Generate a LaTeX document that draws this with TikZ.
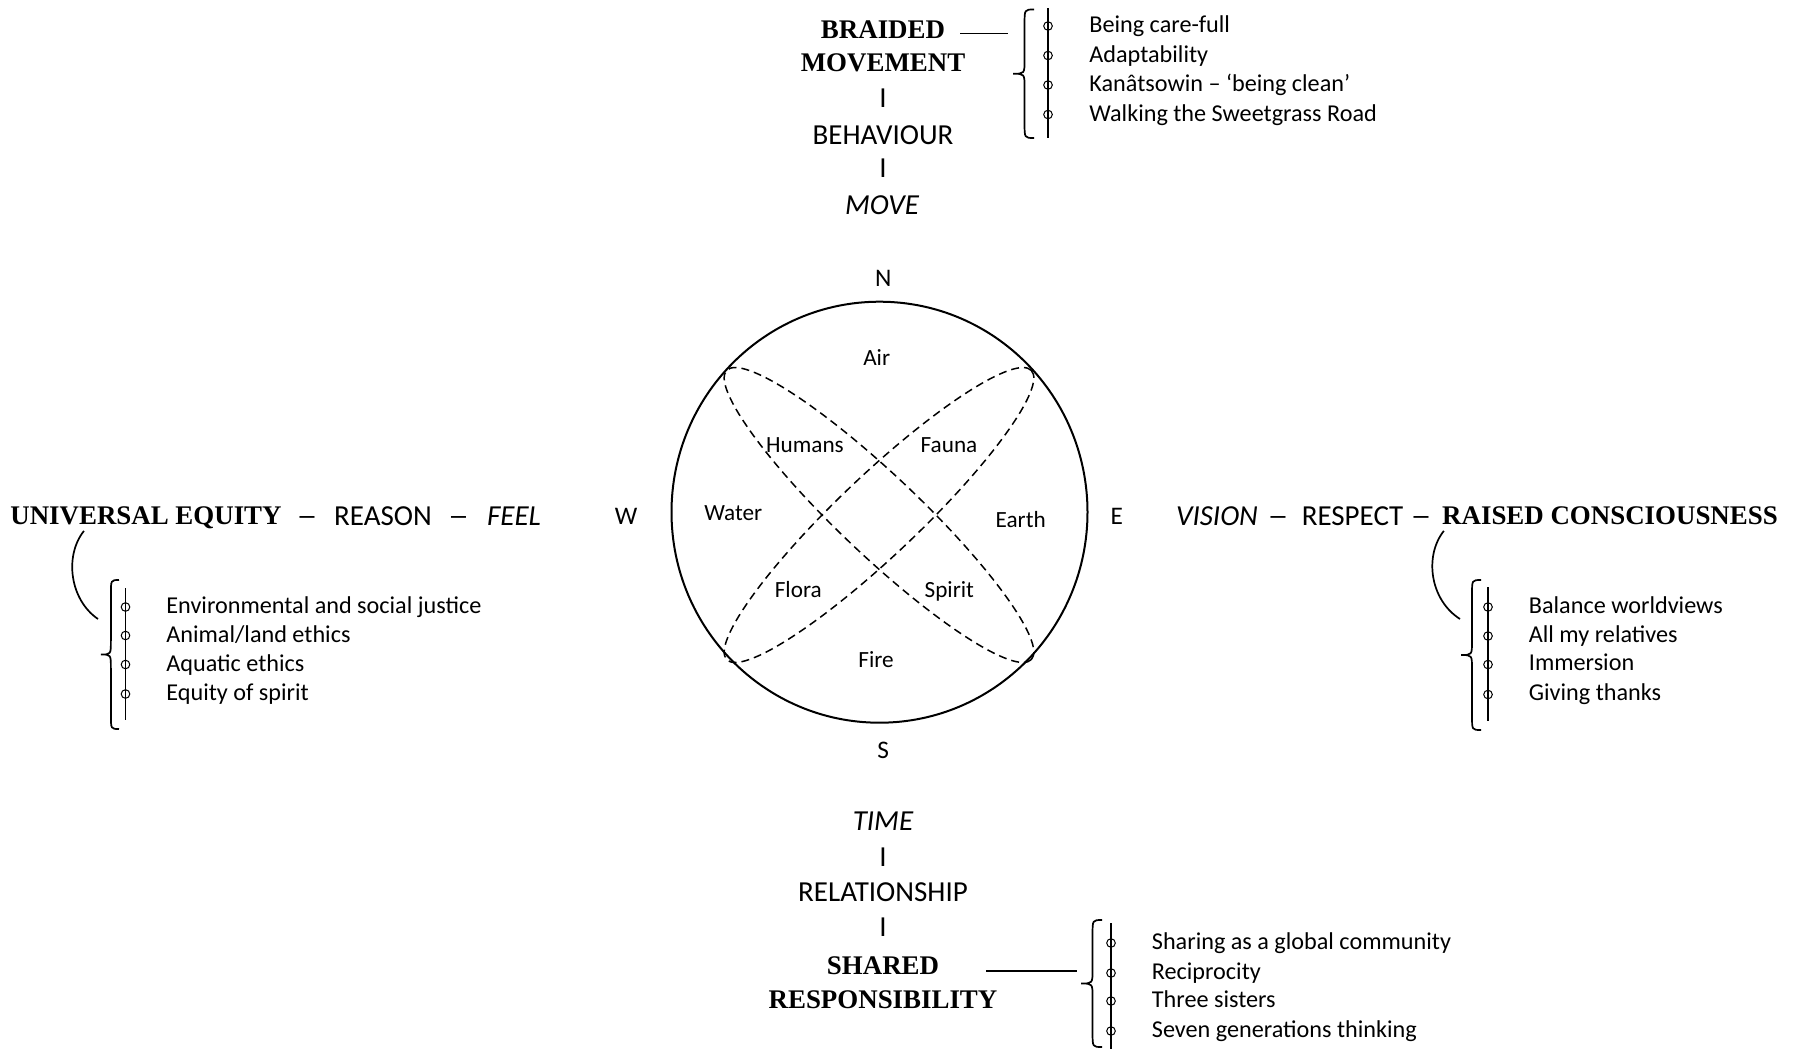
\documentclass[tikz,border=0pt]{standalone}
\usepackage{fontspec}
\setmainfont{Carlito}
\newfontfamily\headfont{Liberation Serif}

% curly brace opening to the right: tip x, end x, top y, bottom y
\newcommand\curlybrace[4]{%
  \pgfmathsetmacro\cbmid{(#3+#4)/2}%
  \pgfmathsetmacro\cbbar{#1+0.55*(#2-#1)}%
  \draw[bracebar] (#2,#3) .. controls (\cbbar,#3) .. (\cbbar,#3+14)
     -- (\cbbar,\cbmid-14) .. controls (\cbbar,\cbmid) .. (#1,\cbmid)
     .. controls (\cbbar,\cbmid) .. (\cbbar,\cbmid+14)
     -- (\cbbar,#4-14) .. controls (\cbbar,#4) .. (#2,#4);
}
% a slightly longer dash between the row labels
\newcommand\rowdash{\scalebox{1.45}[1]{–}}

\begin{document}
\begin{tikzpicture}[x=0.5pt,y=-0.5pt,
  lab/.style={font=\fontsize{14.5}{17}\selectfont, anchor=base, yshift=-4.6pt, inner sep=0pt},
  ital/.style={font=\fontsize{14.5}{17}\selectfont\itshape, anchor=base, yshift=-4.6pt, inner sep=0pt},
  head/.style={font=\fontsize{13.45}{16}\headfont\bfseries, anchor=base, yshift=-4.45pt, inner sep=0pt},
  item/.style={font=\fontsize{12.1}{14}\selectfont, anchor=base west, yshift=-3.8pt, inner sep=0pt},
  elem/.style={font=\fontsize{11.6}{14}\selectfont, anchor=base, yshift=-3.65pt, inner sep=0pt},
  compass/.style={font=\fontsize{12.65}{15}\selectfont, anchor=base, yshift=-4pt, inner sep=0pt},
  stroke/.style={line width=0.85pt},
  bracebar/.style={line width=0.85pt},
  bead/.style={line width=0.5pt},
  ring/.style={line width=1pt},
  sector/.style={line width=0.75pt, dash pattern=on 4pt off 2.5pt},
]
\fill[white] (0,0) rectangle (1798,1049);
\useasboundingbox (0,0) rectangle (1798,1049);

% ---- medicine wheel ----
\coordinate (hub) at (879.5,512.2);
\coordinate (cross) at (879,515);
\draw[ring] (hub) ellipse [x radius=208, y radius=210.5];
\draw[sector, rotate around={-43.5:(cross)}] (cross) ellipse [x radius=210, y radius=40];
\draw[sector, rotate around={43.5:(cross)}] (cross) ellipse [x radius=210, y radius=40];

\node[elem] (air)    at (876.7,358.3) {Air};
\node[elem] (humans) at (805,445)     {Humans};
\node[elem] (fauna)  at (949,445)     {Fauna};
\node[elem] (water)  at (733.3,513.3) {Water};
\node[elem] (earth)  at (1020.7,520)  {Earth};
\node[elem] (flora)  at (798.3,590)   {Flora};
\node[elem] (spirit) at (949.3,590)   {Spirit};
\node[elem] (fire)   at (876,660)     {Fire};

\node[compass] (n) at (883.3,278.3) {N};
\node[compass] (e) at (1116.7,516.7) {E};
\node[compass] (s) at (883.3,750)   {S};
\node[compass] (w) at (626,516)     {W};

% ---- north ----
\node[head] (braided)   at (883,29.5) {BRAIDED};
\node[head] (movement)  at (883,63)   {MOVEMENT};
\node[lab]  (sepA)      at (883,98)   {I};
\node[lab]  (behaviour) at (883,135.4) {BEHAVIOUR};
\node[lab]  (sepB)      at (883,168.5) {I};
\node[ital] (move)      at (882,205)  {MOVE};

\draw[stroke] ([shift={(15,-5)}]braided.base east) -- +(48,0);
\curlybrace{1013}{1034}{9.5}{138}
\draw[bracebar] (1048,8.3) -- (1048,138.3);
\foreach \y in {26,55.5,85,114.5} \draw[bead] (1048,\y) circle [radius=4.3];
\node[item] (n1) at (1089,25)    {Being care-full};
\node[item] (n2) at (1089,54.5)  {Adaptability};
\node[item] (n3) at (1089,84)    {Kanâtsowin – ‘being clean’};
\node[item] (n4) at (1089,113.5) {Walking the Sweetgrass Road};

% ---- west ----
\node[head] (ue) at (146,516) {UNIVERSAL EQUITY};
\node[lab]  (dA) at (307,516) {\rowdash};
\node[lab]  (reason) at (383,516) {REASON};
\node[lab]  (dB) at (458.7,516) {\rowdash};
\node[ital] (feel) at (514,516) {FEEL};

\coordinate (warc) at (98,619);
\draw[stroke] ([shift={(74,6)}]ue.base west) .. controls (64,556) and (70,600) .. (warc);
\curlybrace{101}{119}{580}{729}
\draw[bracebar] (125.5,588) -- (125.5,720);
\foreach \y in {607,635.5,664.5,694} \draw[bead] (125.5,\y) circle [radius=4.3];
\node[item] (w1) at (166,606)   {Environmental and social justice};
\node[item] (w2) at (166,634.5) {Animal/land ethics};
\node[item] (w3) at (166,663.5) {Aquatic ethics};
\node[item] (w4) at (166,693)   {Equity of spirit};

% ---- east ----
\node[ital] (vision)  at (1217,516)   {VISION};
\node[lab]  (dC)      at (1278,516)   {\rowdash};
\node[lab]  (respect) at (1352.5,516) {RESPECT};
\node[lab]  (dD)      at (1421,516)   {\rowdash};
\node[head] (rc)      at (1610,516)   {RAISED CONSCIOUSNESS};

\coordinate (earc) at (1460,619);
\draw[stroke] ([shift={(2,6)}]rc.base west) .. controls (1424,556) and (1430,600) .. (earc);
\curlybrace{1461}{1481}{580}{730}
\draw[bracebar] (1488,587) -- (1488,721);
\foreach \y in {607,636,664.5,694.5} \draw[bead] (1488,\y) circle [radius=4.3];
\node[item] (e1) at (1528.5,605.7) {Balance worldviews};
\node[item] (e2) at (1528.5,635)   {All my relatives};
\node[item] (e3) at (1528.5,663.3) {Immersion};
\node[item] (e4) at (1528.5,693.3) {Giving thanks};

% ---- south ----
\node[ital] (time)           at (883,821)   {TIME};
\node[lab]  (sepC)           at (883,857)   {I};
\node[lab]  (relationship)   at (883,892)   {RELATIONSHIP};
\node[lab]  (sepD)           at (883,927)   {I};
\node[head] (shared)         at (883,966)   {SHARED};
\node[head] (responsibility) at (883,999.5) {RESPONSIBILITY};

\draw[stroke] ([shift={(47,-4)}]shared.base east) -- +(91,0);
\curlybrace{1081}{1102}{920}{1047}
\draw[bracebar] (1111,923) -- (1111,1049);
\foreach \y in {943,973,1001,1031} \draw[bead] (1111,\y) circle [radius=4.3];
\node[item] (s1) at (1151.5,942)  {Sharing as a global community};
\node[item] (s2) at (1151.5,972)  {Reciprocity};
\node[item] (s3) at (1151.5,1000) {Three sisters};
\node[item] (s4) at (1151.5,1030) {Seven generations thinking};
\end{tikzpicture}
\end{document}
